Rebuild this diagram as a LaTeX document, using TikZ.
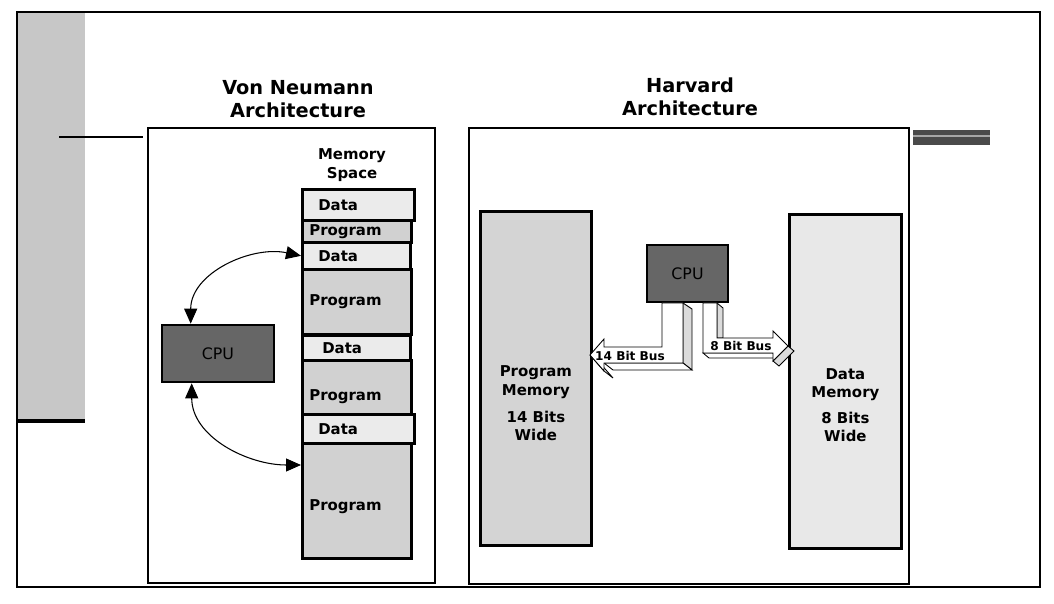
\documentclass[tikz,border=0pt]{standalone}
\usepackage{fontspec}
\setmainfont{DejaVu Sans}
\usetikzlibrary{arrows.meta,calc}
\def\memfont{\bfseries\fontsize{8.5}{10.5}\selectfont}
\tikzset{
	blk/.style={draw, line width=1.5pt, anchor=north west, align=left, inner ysep=0pt, font=\memfont},
	datablk/.style={blk, fill=black!8, inner xsep=0.32cm, text width=1.6cm},
	progblk/.style={blk, fill=black!18, inner xsep=0.14cm, text width=1.9cm},
	cpubox/.style={draw, line width=1.5pt, fill=black!60, font=\fontsize{9}{11}\selectfont},
	bigmem/.style={draw, line width=1.6pt, anchor=north west, minimum width=2.22cm, minimum height=6.68cm},
	memtxt/.style={align=center, font=\memfont},
	title/.style={align=center, font=\bfseries\fontsize{11}{13.2}\selectfont},
	dbl/.style={{Triangle[length=3mm,width=2.6mm]}-{Triangle[length=3mm,width=2.6mm]}, line width=0.6pt},
	busfront/.style={draw, line width=0.5pt, fill=white},
	busside/.style={draw, line width=0.5pt, fill=black!14},
	buslbl/.style={font=\bfseries\fontsize{6.9}{8}\selectfont},
}

\begin{document}
\begin{tikzpicture}[x=0.02cm, y=-0.02cm]
			%%%%% START %%%%%
			\useasboundingbox (0, 0) rectangle (1054, 604);
			
			\draw[fill=black!22, draw=none] (17, 12) rectangle (85, 421);
			\draw[line width=2.3pt] (17, 421) -- (85, 421);
			\draw[line width=1.1pt] (17, 12) rectangle (1040, 587);
			\draw[line width=1.4pt] (59, 137) -- (143, 137);
			\draw[fill=black!71, draw=none] (913, 130) rectangle (990, 145);
			\draw[line width=0.6pt, color=black!35] (913, 136) -- (990, 136);
			
			%% von neumann side
			\draw[line width=1.4pt] (148, 128) rectangle (435, 583);
			\node[title] (vntitle) at (298, 99) {Von Neumann\\Architecture};
			\node[memtxt] (memspace) at (352, 165) {Memory\\Space};
			
			\node[progblk, minimum height=0.44cm] (p1) at (301, 219) {Program};
			\node[progblk, minimum height=1.30cm] (p2) at (301, 268) {Program};
			\node[progblk, text height=0.58cm, minimum height=1.08cm] (p3) at (301, 359) {Program};
			\node[progblk, text height=0.45cm, minimum height=2.30cm] (p4) at (301, 442) {Program};
			
			\node[datablk, minimum height=0.62cm] (d1) at (301, 188) {Data};
			\node[datablk, text width=1.52cm, minimum height=0.54cm] (d2) at (301, 241) {Data};
			\node[datablk, inner xsep=0.40cm, text width=1.36cm, minimum height=0.50cm] (d3) at (301, 334) {Data};
			\node[datablk, minimum height=0.58cm] (d4) at (301, 413) {Data};
			
			\node[cpubox, minimum width=2.24cm, minimum height=1.14cm] (vcpu) at (218, 353.5) {CPU};
			
			\draw[dbl] ($(vcpu.north west)+(30, 0)$) to[out=90, in=168] (d2.west);
			\draw[dbl] ($(vcpu.south west)+(31, 0)$) to[out=-90, in=180] ($(p4.north west)+(0, 23)$);
			
			%% harvard side
			\draw[line width=1.4pt] (469, 128) rectangle (909, 584);
			\node[title] (hvtitle) at (690, 97) {Harvard\\Architecture};
			
			\node[bigmem, fill=black!17] (pmem) at (479, 210) {};
			\node[memtxt] (pmemtxt) at ($(pmem.center)+(0, 25)$) {Program\\Memory\\[5pt]14 Bits\\Wide};
			\node[bigmem, fill=black!9, minimum width=2.24cm] (dmem) at (788, 213) {};
			\node[memtxt] (dmemtxt) at ($(dmem.center)+(0, 24)$) {Data\\Memory\\[4pt]8 Bits\\Wide};
			
			\node[cpubox, minimum width=1.62cm, minimum height=1.14cm] (hcpu) at (687.5, 273.5) {CPU};
			
			% 14 bit bus
			\draw[busside] (683, 303) -- (692, 309) -- (692, 370) -- (683, 363) -- cycle;
			\draw[busside, fill=white] (604, 363) -- (683, 363) -- (692, 370) -- (613, 370) -- cycle;
			\draw[busside, fill=white] (590, 355) -- (604, 371) -- (613, 378) -- (599, 362) -- cycle;
			\draw[busfront] (662, 303) -- (662, 347) -- (604, 347) -- (604, 339) -- (590, 355) -- (604, 371) -- (604, 363) -- (683, 363) -- (683, 303) -- cycle;
			\node[buslbl] (bus14) at (630, 355.5) {14 Bit Bus};
			
			% 8 bit bus
			\draw[busside] (717, 303) -- (723, 308) -- (723, 338) -- (717, 338) -- cycle;
			\draw[busside, fill=white] (703, 353) -- (773, 353) -- (779, 358) -- (709, 358) -- cycle;
			\draw[busside] (773, 361) -- (788, 346) -- (794, 351) -- (779, 366) -- cycle;
			\draw[busfront] (703, 303) -- (703, 353) -- (773, 353) -- (773, 361) -- (788, 346) -- (773, 331) -- (773, 338) -- (717, 338) -- (717, 303) -- cycle;
			\node[buslbl] (bus8) at (741, 345.5) {8 Bit Bus};
			
			%%%%% END %%%%%
\end{tikzpicture}
\end{document}
